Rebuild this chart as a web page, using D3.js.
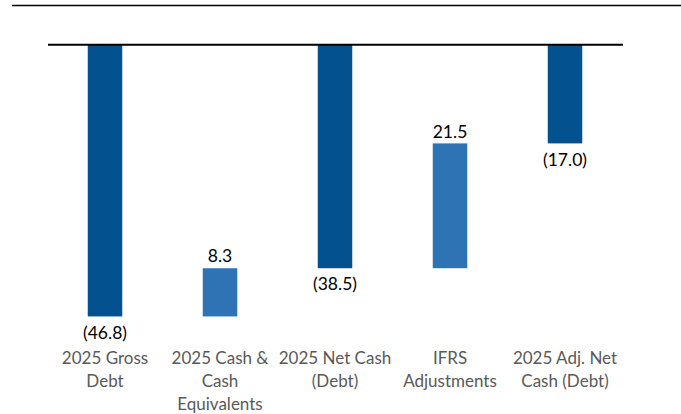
<!DOCTYPE html>
<html>
<head>
<meta charset="utf-8">
<script src="https://cdn.jsdelivr.net/npm/d3@7"></script>
<style>
  body { margin: 0; background: #fff; }
  text { font-family: Lato, "Open Sans", sans-serif; }
</style>
</head>
<body>
<div id="chart"></div>
<script>
// Waterfall data
const categories = ["gross", "cash", "net", "ifrs", "adj"];
const tickLabels = [
    ["2025 Gross", "Debt"],
    ["2025 Cash &", "Cash", "Equivalents"],
    ["2025 Net Cash", "(Debt)"],
    ["IFRS", "Adjustments"],
    ["2025 Adj. Net", "Cash (Debt)"]
];
const values = [-46.8, 8.3, -38.5, 21.5, -17.0];
const isTotal = [true, false, true, false, true];

const width = 681, height = 414;

const svg = d3.select("#chart")
    .append("svg")
    .attr("width", width)
    .attr("height", height);

// Build start/end for each bar
let running = 0;
const bars = categories.map((c, i) => {
    let start, end;
    if (isTotal[i]) {
        start = 0; end = values[i]; running = values[i];
    } else {
        start = running; end = running + values[i]; running = end;
    }
    return { key: c, value: values[i], start: start, end: end, total: isTotal[i], lines: tickLabels[i] };
});

const x = d3.scaleBand()
    .domain(categories)
    .range([47.5, 622.5])
    .paddingInner(0.7)
    .paddingOuter(0.35);

const y = d3.scaleLinear()
    .domain([-50, 0])
    .range([335, 44.7]);

// Top rule
svg.append("line")
    .attr("x1", 12).attr("x2", width)
    .attr("y1", 5.5).attr("y2", 5.5)
    .attr("stroke", "#000")
    .attr("stroke-width", 1.5);

// Bars
svg.append("g")
    .selectAll("rect")
    .data(bars)
    .enter()
    .append("rect")
    .attr("x", d => x(d.key))
    .attr("width", x.bandwidth())
    .attr("y", d => y(Math.max(d.start, d.end)))
    .attr("height", d => Math.abs(y(d.start) - y(d.end)))
    .attr("fill", d => d.total ? "#03528F" : "#2E74B5");

// Zero line
svg.append("line")
    .attr("x1", 48).attr("x2", 623)
    .attr("y1", y(0)).attr("y2", y(0))
    .attr("stroke", "#000")
    .attr("stroke-width", 2);

// Value labels
const fmt = v => v < 0 ? "(" + d3.format(".1f")(-v) + ")" : d3.format(".1f")(v);

svg.append("g")
    .selectAll("text")
    .data(bars)
    .enter()
    .append("text")
    .attr("x", d => x(d.key) + x.bandwidth() / 2)
    .attr("y", d => d.value < 0 ? y(Math.min(d.start, d.end)) + 16 : y(Math.max(d.start, d.end)) - 12)
    .attr("dy", "0.35em")
    .attr("text-anchor", "middle")
    .attr("font-size", "17.5px")
    .attr("fill", "#000")
    .text(d => fmt(d.value));

// Category labels
const labels = svg.append("g")
    .selectAll("text")
    .data(bars)
    .enter()
    .append("text")
    .attr("text-anchor", "middle")
    .attr("font-size", "17px")
    .attr("fill", "#595959");

labels.selectAll("tspan")
    .data(d => d.lines.map(l => ({ key: d.key, line: l })))
    .enter()
    .append("tspan")
    .attr("x", d => x(d.key) + x.bandwidth() / 2)
    .attr("y", (d, i) => 358 + i * 23)
    .attr("dy", "0.35em")
    .text(d => d.line);
</script>
</body>
</html>
